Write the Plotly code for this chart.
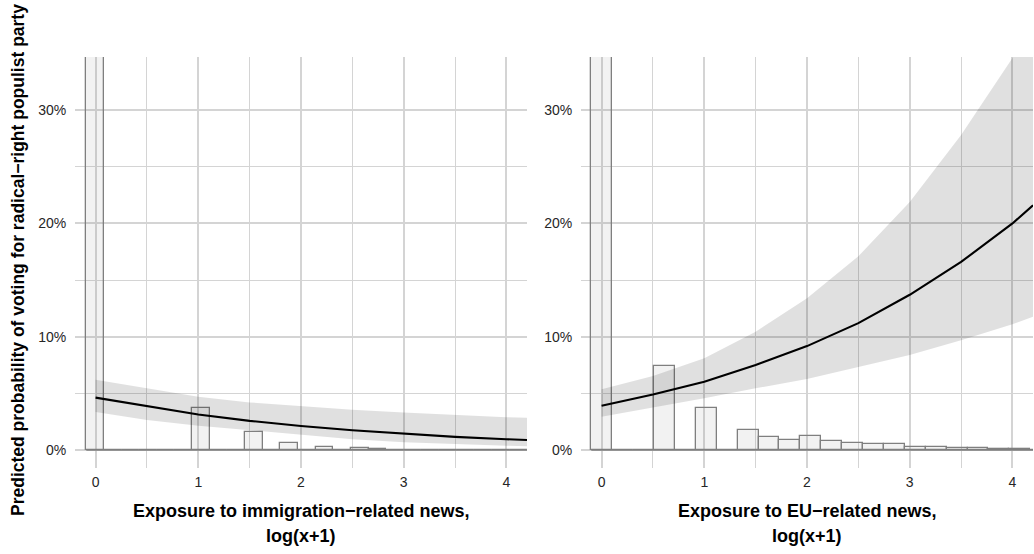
import numpy as np
import plotly.graph_objects as go

# ---- predicted probabilities (in %) along log(x+1) exposure ----
grid_x = [0, 0.5, 1, 1.5, 2, 2.5, 3, 3.5, 4, 4.2]

imm_fit = [4.62, 3.85, 3.14, 2.57, 2.12, 1.74, 1.43, 1.16, 0.95, 0.88]
imm_upper = [6.2, 5.45, 4.7, 4.2, 3.85, 3.55, 3.3, 3.08, 2.9, 2.85]
imm_lower = [3.35, 2.65, 2.15, 1.75, 1.35, 0.95, 0.68, 0.5, 0.38, 0.33]

eu_fit = [3.91, 4.9, 6.03, 7.5, 9.17, 11.2, 13.7, 16.6, 20.0, 21.6]
eu_upper = [5.36, 6.53, 8.09, 10.44, 13.4, 17.1, 21.9, 27.8, 34.6, 37.5]
eu_lower = [2.94, 3.75, 4.56, 5.44, 6.27, 7.32, 8.39, 9.68, 11.1, 11.77]

# ---- distribution of exposure (histogram, scaled to the probability axis) ----
imm_bin_start = -0.09
imm_bin_width = 0.1717
imm_hist = [50, 0, 0, 0, 0, 0, 3.73, 0, 0, 1.62, 0, 0.65, 0, 0.3, 0, 0.17, 0.1,
            0, 0, 0, 0, 0, 0, 0, 0, 0]

eu_bin_start = -0.10
eu_bin_width = 0.2035
eu_hist = [50, 0, 0, 7.41, 0, 3.73, 0, 1.79, 1.18, 0.92, 1.27, 0.8, 0.6, 0.53,
           0.55, 0.28, 0.28, 0.18, 0.2, 0.13, 0.07, 0]

# ---- axis labels ----
y_tick_vals = [0, 10, 20, 30]
y_tick_text = ["0%", "10%", "20%", "30%"]
x_tick_vals = [0, 1, 2, 3, 4]
x_tick_text = ["0", "1", "2", "3", "4"]

imm_title = ["Exposure to immigration\u2212related news,", "log(x+1)"]
eu_title = ["Exposure to EU\u2212related news,", "log(x+1)"]
y_title = "Predicted probability of voting for radical\u2212right populist party"

W, H = 1034, 554
FONT = "Liberation Sans, Arial, Helvetica, sans-serif"
GRID = "#d4d4d4"
BAR_FILL = "rgba(127,127,127,0.10)"
BAR_LINE = "#7f7f7f"
RIBBON = "rgba(0,0,0,0.12)"

fig = go.Figure()


def add_panel(xa, ya, bin_start, bin_width, hist, fit, lower, upper):
    edges = bin_start + bin_width * np.arange(len(hist) + 1)
    centers = (edges[:-1] + edges[1:]) / 2
    # histogram bars
    fig.add_trace(go.Bar(
        x=centers, y=hist, width=bin_width, xaxis=xa, yaxis=ya,
        marker=dict(color=BAR_FILL, line=dict(color=BAR_LINE, width=1.3)),
        showlegend=False, hoverinfo="skip",
    ))
    # outline along the bottom of the histogram (empty bins)
    fig.add_trace(go.Scatter(
        x=[edges[0], edges[-1]], y=[0, 0], mode="lines", xaxis=xa, yaxis=ya,
        line=dict(color=BAR_LINE, width=1.3), showlegend=False, hoverinfo="skip",
    ))
    # confidence band
    fig.add_trace(go.Scatter(
        x=grid_x + grid_x[::-1], y=upper + lower[::-1], xaxis=xa, yaxis=ya,
        fill="toself", fillcolor=RIBBON, line=dict(width=0), mode="lines",
        showlegend=False, hoverinfo="skip",
    ))
    # predicted probability
    fig.add_trace(go.Scatter(
        x=grid_x, y=fit, mode="lines", xaxis=xa, yaxis=ya,
        line=dict(color="black", width=2.1), showlegend=False,
    ))


add_panel("x", "y", imm_bin_start, imm_bin_width, imm_hist, imm_fit, imm_lower, imm_upper)
add_panel("x2", "y2", eu_bin_start, eu_bin_width, eu_hist, eu_fit, eu_lower, eu_upper)

y_top, y_bot = 57, 468
ydom = [1 - y_bot / H, 1 - y_top / H]
left_dom = [75 / W, 527 / W]
right_dom = [581 / W, 1033 / W]

xaxis_common = dict(
    range=[-0.2, 4.2], tickvals=x_tick_vals, ticktext=x_tick_text,
    showgrid=True, gridcolor=GRID, gridwidth=1.6, zeroline=False, showline=False,
    ticks="outside", ticklen=1, tickcolor="rgba(0,0,0,0)",
    tickfont=dict(family=FONT, size=14, color="#262626"),
    minor=dict(dtick=0.5, tick0=0, showgrid=True, gridcolor=GRID, gridwidth=1.4, ticks=""),
    fixedrange=True,
)
yaxis_common = dict(
    range=[-1.59, 34.69], tickvals=y_tick_vals, ticktext=y_tick_text,
    showgrid=True, gridcolor=GRID, gridwidth=1.6, zeroline=False, showline=False,
    ticks="outside", ticklen=5, tickcolor="rgba(0,0,0,0)",
    tickfont=dict(family=FONT, size=14, color="#262626"),
    minor=dict(dtick=5, tick0=0, showgrid=True, gridcolor=GRID, gridwidth=1.4, ticks=""),
    fixedrange=True,
)

fig.update_layout(
    width=W, height=H,
    margin=dict(l=0, r=0, t=0, b=0),
    paper_bgcolor="white", plot_bgcolor="white",
    barmode="overlay", bargap=0,
    font=dict(family=FONT, color="black"),
    xaxis=dict(domain=left_dom, anchor="y", **xaxis_common),
    yaxis=dict(domain=ydom, anchor="x", **yaxis_common),
    xaxis2=dict(domain=right_dom, anchor="y2", **xaxis_common),
    yaxis2=dict(domain=ydom, anchor="x2", **yaxis_common),
)

title_font = dict(family=FONT, size=18, color="black", weight="bold")
line_y = [510.5, 535.5]
for dom, lines in ((left_dom, imm_title), (right_dom, eu_title)):
    for txt, yp in zip(lines, line_y):
        fig.add_annotation(
            text=txt, xref="paper", yref="paper",
            x=(dom[0] + dom[1]) / 2, y=1 - yp / H,
            xanchor="center", yanchor="middle", showarrow=False, font=title_font,
        )

fig.add_annotation(
    text=y_title, xref="paper", yref="paper", x=18 / W, y=1 - 260 / H,
    xanchor="center", yanchor="middle", textangle=-90, showarrow=False,
    font=dict(family=FONT, size=17.5, color="black", weight="bold"),
)

fig.write_html("out.html")
